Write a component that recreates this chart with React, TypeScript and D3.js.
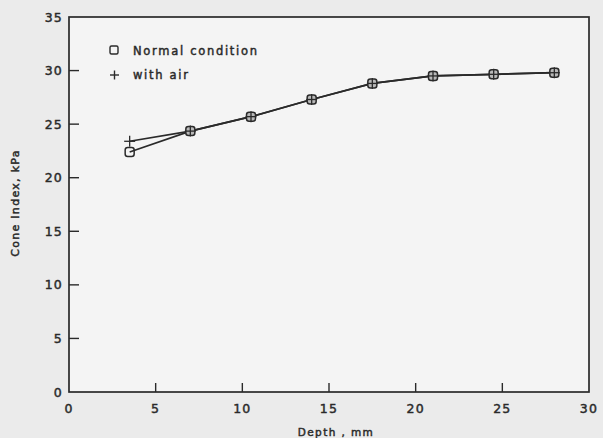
import React from "react";
import * as d3 from "d3";

const depths = [3.5, 7, 10.5, 14, 17.5, 21, 24.5, 28];
const normalValues = [22.4, 24.35, 25.7, 27.3, 28.8, 29.5, 29.65, 29.8];
const airValues = [23.4, 24.35, 25.7, 27.3, 28.8, 29.5, 29.65, 29.8];
const xTicks = [0, 5, 10, 15, 20, 25, 30];
const yTicks = [0, 5, 10, 15, 20, 25, 30, 35];
const legendLabels = ["Normal condition", "with air"];

const W = 603, H = 438;
const M = { left: 69, right: 14, top: 17, bottom: 46 };
const ink = "#2a2a2a";
const font = "'DejaVu Sans', sans-serif";
const thick = { stroke: ink, strokeWidth: 0.45 };

export default function App() {
  const x = d3.scaleLinear().domain([0, 30]).range([M.left, W - M.right]);
  const y = d3.scaleLinear().domain([0, 35]).range([H - M.bottom, M.top]);
  const line = d3.line<number>().x((_, i) => x(depths[i])).y((v) => y(v));
  const sq = 4.5;
  const pl = 5.5;
  return (
    <svg width={W} height={H} style={{ position: "absolute", left: 0, top: 0 }}>
      <rect x={0} y={0} width={W} height={H} fill="#ebebeb" />
      <rect x={M.left} y={M.top} width={x(30) - M.left} height={y(0) - M.top} fill="#f4f4f4" stroke={ink} strokeWidth={1.7} />
      {xTicks.slice(1, -1).map((t) => (
        <line key={"xt" + t} x1={x(t)} x2={x(t)} y1={y(0)} y2={y(0) - 9} stroke={ink} strokeWidth={1.4} />
      ))}
      {yTicks.slice(1, -1).map((t) => (
        <line key={"yt" + t} x1={x(0)} x2={x(0) + 10} y1={y(t)} y2={y(t)} stroke={ink} strokeWidth={1.4} />
      ))}
      {xTicks.map((t) => (
        <text key={"xl" + t} x={x(t)} y={y(0) + 21} textAnchor="middle" fontFamily={font} fontSize={12.5} fill={ink} letterSpacing={1.2} {...thick}>{t}</text>
      ))}
      {yTicks.map((t) => (
        <text key={"yl" + t} x={x(0) - 6} y={y(t) + 4.5} textAnchor="end" fontFamily={font} fontSize={12.5} fill={ink} letterSpacing={1.2} {...thick}>{t}</text>
      ))}
      <text x={336} y={436} textAnchor="middle" fontFamily={font} fontSize={10.5} fill={ink} letterSpacing={1.4} {...thick}>Depth , mm</text>
      <text transform={`translate(19,203) rotate(-90)`} textAnchor="middle" fontFamily={font} fontSize={11} fill={ink} letterSpacing={1.3} {...thick}>Cone Index, kPa</text>
      <path d={line(normalValues) || ""} fill="none" stroke={ink} strokeWidth={1.7} />
      <path d={line(airValues) || ""} fill="none" stroke={ink} strokeWidth={1.7} />
      {normalValues.map((v, i) => (
        <rect key={"n" + i} x={x(depths[i]) - sq} y={y(v) - sq} width={sq * 2} height={sq * 2} rx={2.5} fill="#b8b8b8" fillOpacity={i === 0 ? 0 : 1} stroke={ink} strokeWidth={1.5} />
      ))}
      {airValues.map((v, i) => (
        <g key={"a" + i} stroke={ink} strokeWidth={1.3}>
          <line x1={x(depths[i]) - pl} x2={x(depths[i]) + pl} y1={y(v)} y2={y(v)} />
          <line x1={x(depths[i])} x2={x(depths[i])} y1={y(v) - pl} y2={y(v) + pl} />
        </g>
      ))}
      <rect x={110} y={46} width={8} height={8} rx={1.5} fill="none" stroke={ink} strokeWidth={1.4} />
      <text x={133} y={55} fontFamily={font} fontSize={11.5} fill={ink} letterSpacing={1.7} {...thick}>{legendLabels[0]}</text>
      <g stroke={ink} strokeWidth={1.4}>
        <line x1={110} x2={119} y1={75} y2={75} />
        <line x1={114.5} x2={114.5} y1={70.5} y2={79.5} />
      </g>
      <text x={133} y={79} fontFamily={font} fontSize={11.5} fill={ink} letterSpacing={1.7} {...thick}>{legendLabels[1]}</text>
    </svg>
  );
}
